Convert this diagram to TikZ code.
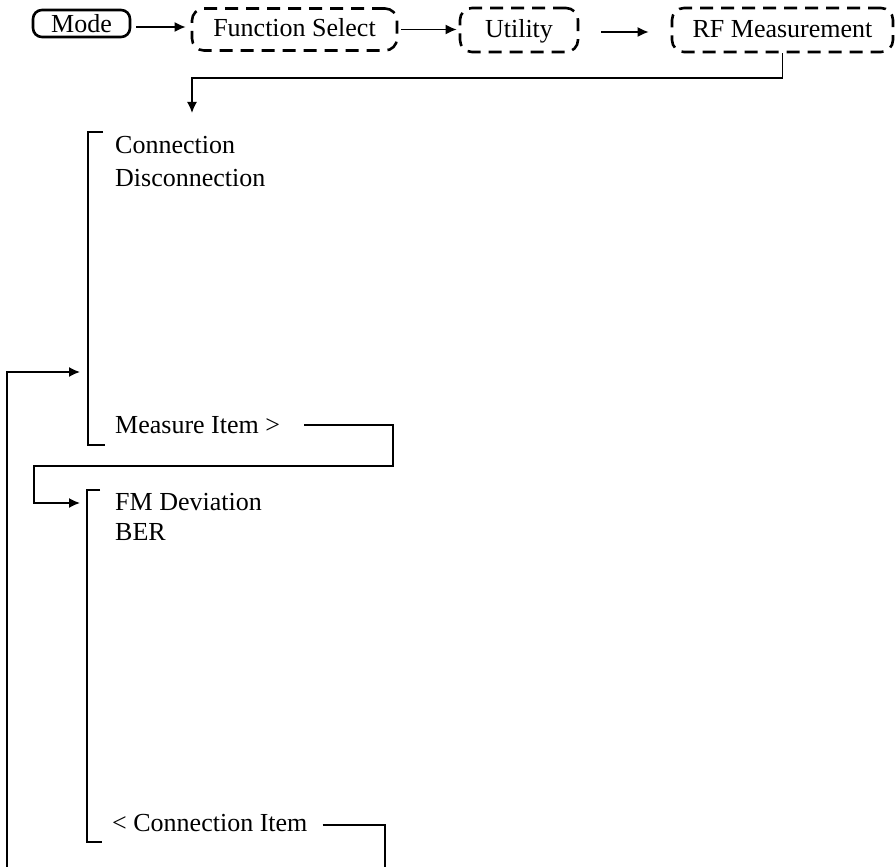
\documentclass[tikz,border=0pt]{standalone}
\usepackage{fontspec}
\setmainfont{Liberation Serif}
\usetikzlibrary{arrows.meta}
\begin{document}
\begin{tikzpicture}[x=1pt,y=-1pt,
  txt/.style={font=\fontsize{26}{30}\selectfont, inner sep=0pt},
  boxbase/.style={draw, line width=2.6pt, inner sep=0pt, text height=18pt, text depth=3pt, font=\fontsize{26}{30}\selectfont},
  solidbox/.style={boxbase, rounded corners=9pt},
  dashbox/.style={boxbase, rounded corners=12pt, dash pattern=on 13pt off 8pt},
  conn/.style={line width=1.6pt},
  arr/.style={conn, -{Latex[length=11pt,width=10pt]}},
  brk/.style={line width=1.6pt}]
\clip (0,0) rectangle (895,867);
\fill[white] (0,0) rectangle (895,867);
% top row
\node[solidbox, text height=22pt, minimum width=97pt, minimum height=27pt] (mode) at (81.5,23.5) {Mode};
\node[dashbox, minimum width=205pt, minimum height=42pt] (fs) at (294.5,29.5) {Function Select};
\node[dashbox, minimum width=118pt, minimum height=44pt] (ut) at (519,30) {Utility};
\node[dashbox, minimum width=221pt, minimum height=44pt] (rf) at (782.5,30) {RF Measurement};
\draw[arr, shorten <=5pt, shorten >=5pt] ([yshift=-3.5pt]mode.east) -- ([yshift=-3.5pt]mode.east -| fs.west);
\draw[arr, shorten <=3pt, shorten >=2pt] (fs.east) -- (fs.east -| ut.west);
\draw[arr, shorten <=22pt, shorten >=22pt] ([yshift=-2pt]ut.east) -- ([yshift=-2pt]ut.east -| rf.west);
\coordinate (d1) at (192,113);
\draw[arr] (rf.south) |- (d1 |- 0,78) -- (d1);
% first menu
\draw[brk] (103,132) -- (88,132) -- (88,445) -- (105,445);
\node[txt, anchor=west] (conn1) at (115,145) {Connection};
\node[txt, anchor=west] (disc) at (115,178) {Disconnection};
\node[txt, anchor=west] (meas) at (115,425) {Measure Item >};
% second menu
\draw[brk] (100,490) -- (87,490) -- (87,842) -- (102,842);
\node[txt, anchor=west] (fm) at (115,502) {FM Deviation};
\node[txt, anchor=west] (ber) at (115,532) {BER};
\node[txt, anchor=west] (citem) at (112,823) {< Connection Item};
% connectors between menus
\coordinate (e2) at (80,503);
\draw[arr] ([xshift=24pt]meas.east) -| (393,466) -| (34,503) -- (e2);
\coordinate (e1) at (80,372);
\draw[arr] ([xshift=15pt,yshift=-2pt]citem.east) -| (385,880) -| (7,372) -- (e1);
\end{tikzpicture}
\end{document}
